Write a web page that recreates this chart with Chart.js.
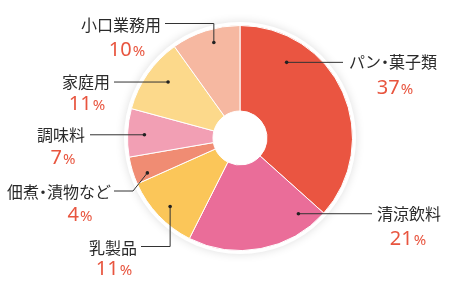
<!DOCTYPE html>
<html>
<head>
<meta charset="utf-8">
<script src="https://cdn.jsdelivr.net/npm/chart.js@4"></script>
<style>
  html, body { margin: 0; padding: 0; background: #fff; }
  canvas { display: block; }
</style>
</head>
<body>
<canvas id="myChart" width="450" height="294"></canvas>
<script>
const categories = ['パン・菓子類', '清涼飲料', '乳製品', '佃煮・漬物など', '調味料', '家庭用', '小口業務用'];
const shares = [37, 21, 11, 4, 7, 11, 10];
const sliceColors = ['#EA5541', '#EA6D99', '#FBC659', '#F08C73', '#F29FB4', '#FCD98B', '#F6B8A1'];

// where each label sits, relative to the pie centre (t / rf pick the dot inside the slice)
const labelLayout = [
    { t: 0.24, rf: 0.79, align: 'left',  tx: 109,  ty: null, lineX: 103,  px: 155,  py: -51 },
    { t: 0.14, rf: 0.85, align: 'left',  tx: 137,  ty: null, lineX: 132,  px: 168,  py: 100 },
    { t: 0.48, rf: 0.87, align: 'right', tx: -103, ty: 110,  lineX: -99,  px: -126, py: 130, elbow: 'v' },
    { t: 0.24, rf: 0.88, align: 'right', tx: -129, ty: 54,   lineX: -126, px: -160, py: 76,  elbow: 'd', elbowX: -107 },
    { t: 0.47, rf: 0.85, align: 'right', tx: -155, ty: null, lineX: -150, px: -177, py: 19 },
    { t: 0.58, rf: 0.81, align: 'right', tx: -130, ty: null, lineX: -126, px: -153, py: -35 },
    { t: 0.57, rf: 0.88, align: 'right', tx: -79,  ty: -113, lineX: -75,  px: -113, py: -89, elbow: 'v' },
];

// draws text with a narrow (half width) middle dot, like proportional Japanese typesetting
function drawJp(c, text, x, y, align) {
    const chars = [...text];
    const adv = chars.map(ch => ch === '・' ? c.measureText(ch).width * 0.5 : c.measureText(ch).width);
    const total = adv.reduce((s, w) => s + w, 0);
    let cx = align === 'right' ? x - total : x;
    c.textAlign = 'left';
    chars.forEach((ch, k) => {
        if (ch === '・') {
            c.fillText(ch, cx - adv[k] * 0.5, y);
        } else {
            c.fillText(ch, cx, y);
        }
        cx += adv[k];
    });
}

const ringShadow = {
    id: 'ringShadow',
    beforeDatasetsDraw(chart) {
        const arc = chart.getDatasetMeta(0).data[0];
        const { x, y, outerRadius } = arc.getProps(['x', 'y', 'outerRadius'], true);
        const c = chart.ctx;
        c.save();
        c.shadowColor = 'rgba(0, 0, 0, 0.13)';
        c.shadowBlur = 10;
        c.fillStyle = '#fff';
        c.beginPath();
        c.arc(x, y, outerRadius + 3.5, 0, Math.PI * 2);
        c.fill();
        c.restore();
    }
};

const calloutLabels = {
    id: 'calloutLabels',
    afterDraw(chart) {
        const c = chart.ctx;
        const arcs = chart.getDatasetMeta(0).data;
        c.save();
        arcs.forEach((arc, i) => {
            const p = arc.getProps(['x', 'y', 'startAngle', 'endAngle', 'outerRadius'], true);
            const L = labelLayout[i];
            const a = p.startAngle + L.t * (p.endAngle - p.startAngle);
            const dx = p.x + Math.cos(a) * L.rf * p.outerRadius;
            const dy = p.y + Math.sin(a) * L.rf * p.outerRadius;
            const ty = L.ty === null ? dy : p.y + L.ty;
            const lx = p.x + L.lineX;

            // leader line
            c.strokeStyle = '#333';
            c.lineWidth = 1;
            c.beginPath();
            if (L.elbow === 'v') {
                c.moveTo(lx, ty - 1.5);
                c.lineTo(dx, ty - 1.5);
                c.lineTo(dx, dy);
            } else if (L.elbow === 'd') {
                c.moveTo(lx, ty - 1);
                c.lineTo(p.x + L.elbowX, ty - 1);
                c.lineTo(dx, dy);
            } else {
                c.moveTo(lx, dy);
                c.lineTo(dx, dy);
            }
            c.stroke();

            c.fillStyle = '#222';
            c.beginPath();
            c.arc(dx, dy, 1.8, 0, Math.PI * 2);
            c.fill();

            // category text
            c.font = '16px "Noto Sans CJK JP"';
            c.fillStyle = '#2a2a2a';
            c.textBaseline = 'middle';
            drawJp(c, categories[i], p.x + L.tx, ty, L.align);

            // percentage
            const num = String(shares[i]);
            c.font = '20px "Noto Sans"';
            const wNum = c.measureText(num).width;
            c.font = '15px "Noto Sans"';
            const wPct = c.measureText('%').width;
            const startX = p.x + L.px - (wNum + wPct + 1) / 2;
            c.fillStyle = '#E8553F';
            c.textAlign = 'left';
            c.textBaseline = 'alphabetic';
            const base = p.y + L.py + 7;
            c.font = '20px "Noto Sans"';
            c.fillText(num, startX, base);
            c.font = '15px "Noto Sans"';
            c.fillText('%', startX + wNum + 1, base);
        });
        c.restore();
    }
};

new Chart(document.getElementById('myChart').getContext('2d'), {
    type: 'doughnut',
    data: {
        labels: categories,
        datasets: [{
            data: shares,
            backgroundColor: sliceColors,
            borderColor: '#fff',
            borderWidth: 1,
        }]
    },
    options: {
        responsive: false,
        animation: false,
        cutout: '24%',
        layout: { padding: { left: 127, right: 97, top: 25, bottom: 43 } },
        plugins: {
            legend: { display: false },
            tooltip: { enabled: false },
        }
    },
    plugins: [ringShadow, calloutLabels]
});
</script>
</body>
</html>
